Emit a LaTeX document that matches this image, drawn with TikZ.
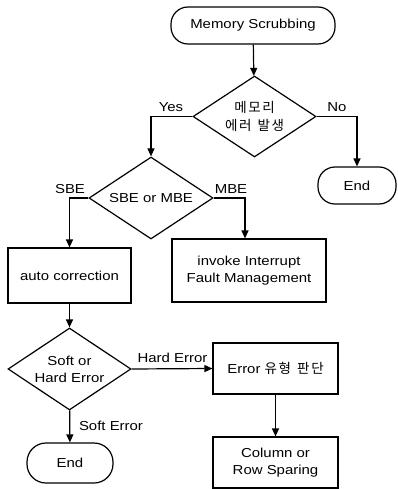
\documentclass[tikz,border=0pt]{standalone}
\usepackage{fontspec}
\setmainfont{Liberation Sans}[FakeStretch=1.15]
\newfontfamily\kr{Noto Sans CJK KR}[LetterSpace=12]
\newcommand{\ksp}{\hspace{0.45em}}
\usetikzlibrary{arrows.meta,shapes.geometric}
\begin{document}
\begin{tikzpicture}[x=1pt,y=-1pt,
  every node/.style={font=\fontsize{13}{17}\selectfont, align=center},
  box/.style={draw, line width=1.2pt, inner sep=1pt},
  term/.style={box, rounded corners=17pt},
  dia/.style={draw, line width=1.2pt, diamond, aspect=1.5, inner sep=0pt},
  lbl/.style={inner sep=0pt},
  link/.style={line width=1.2pt, -{Triangle[length=8pt,width=7pt]}},
  kor/.style={font=\kr\fontsize{13.5}{18.5}\selectfont}]
\useasboundingbox (0,0) rectangle (398,489);
\node[term, minimum width=164pt, minimum height=37pt] (start) at (253,25.5) {Memory Scrubbing};
\node[dia, minimum width=123pt, minimum height=81pt, kor] (d1) at (254.5,116.5) {메모리\\에러\ksp 발생};
\node[term, minimum width=78pt, minimum height=37pt] (endR) at (357,185.5) {End};
\node[dia, minimum width=124pt, minimum height=82pt] (d2) at (151,198) {SBE or MBE};
\node[box, minimum width=123pt, minimum height=55pt] (auto) at (69.5,275.5) {auto correction};
\node[box, minimum width=154pt, minimum height=63pt] (inv) at (249,270.5) {invoke Interrupt\\Fault Management};
\node[dia, minimum width=123pt, minimum height=82pt] (d3) at (69.5,369) {Soft or\\Hard Error};
\node[box, minimum width=125pt, minimum height=51pt] (etype) at (275.5,368.5) {Error {\kr\fontsize{13.5}{17}\selectfont 유형\ksp 판단}};
\node[box, minimum width=125pt, minimum height=51pt] (col) at (275.5,462.5) {Column or\\Row Sparing};
\node[term, minimum width=86pt, minimum height=40pt, rounded corners=19pt] (endL) at (70,463) {End};

\draw[link] (start) -- (d1);
\draw[link] (d1.west) -| (d2.north);
\draw[link] (d1.east) -| (endR.north);
\draw[link] (d2.west) -| (auto.north);
\draw[link] (d2.east) -| ([xshift=-4pt]inv.north);
\draw[link] (auto) -- (d3);
\draw[link] (d3.east) -- (etype.west);
\draw[link] (etype) -- (col);
\draw[link] (d3) -- (endL);

\node[lbl] (yes) at (171,107) {Yes};
\node[lbl] (no) at (337,107) {No};
\node[lbl] (sbe) at (70,189) {SBE};
\node[lbl] (mbe) at (231,189) {MBE};
\node[lbl] (hard) at (172.5,358) {Hard Error};
\node[lbl] (soft) at (111,426) {Soft Error};
\end{tikzpicture}
\end{document}
